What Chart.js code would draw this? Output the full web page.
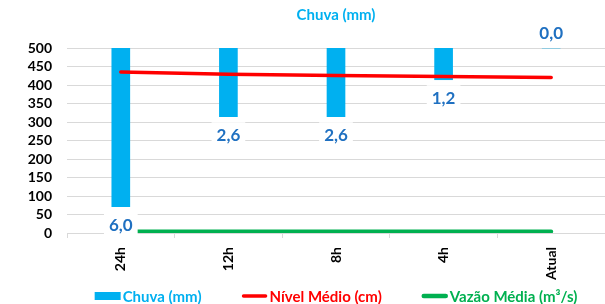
<!DOCTYPE html>
<html><head><meta charset="utf-8">
<script src="https://cdn.jsdelivr.net/npm/chart.js@4"></script>
<style>html,body{margin:0;padding:0;background:#fff;}#wrap{width:605px;height:304px;}</style>
</head><body><div id="wrap"><canvas id="c" width="605" height="304"></canvas></div>
<script>
const categories = ['24h', '12h', '8h', '4h', 'Atual'];
const chuva = [6.0, 2.6, 2.6, 1.2, 0.0];
const nivel = [435, 429, 426, 423, 420];
const vazao = [4, 4, 4, 4, 4];
const yMin = 0, yMax = 500, yStep = 50;
const chuvaMax = 7;
const seriesNames = ['Chuva (mm)', 'Nível Médio (cm)', 'Vazão Média (m³/s)'];
const seriesColors = ['#00B0F0', '#FF0000', '#00B050'];

const FONT = 'Lato';
const labelPlugin = {
  id: 'chuvaLabels',
  afterDatasetsDraw(chart) {
    const meta = chart.getDatasetMeta(0);
    const ctx = chart.ctx;
    ctx.save();
    ctx.font = 'bold 17px ' + FONT;
    ctx.textAlign = 'center';
    ctx.textBaseline = 'middle';
    meta.data.forEach((el, i) => {
      const v = chuva[i];
      const txt = v.toFixed(1).replace('.', ',');
      const y = v > 0 ? el.y + 17.5 : el.y - 15.5;
      const w = ctx.measureText(txt).width + 10;
      ctx.fillStyle = '#ffffff';
      ctx.fillRect(el.x - w / 2, y - 12, w, 24);
      ctx.fillStyle = '#1F70C1';
      ctx.fillText(txt, el.x, y + 1);
    });
    ctx.restore();
  }
};

const legendPlugin = {
  id: 'customLegend',
  afterDraw(chart) {
    const ctx = chart.ctx;
    const area = chart.chartArea;
    ctx.save();
    ctx.font = 'bold 15px ' + FONT;
    ctx.textBaseline = 'middle';
    ctx.textAlign = 'left';
    const boxW = 26, gapBox = 2, gapItem = 40;
    const widths = seriesNames.map(t => boxW + gapBox + ctx.measureText(t).width);
    const total = widths.reduce((a, b) => a + b, 0) + gapItem * (widths.length - 1);
    let x = (area.left + area.right) / 2 - total / 2;
    const y = 296;
    chart.data.datasets.forEach((ds, i) => {
      const c = seriesColors[i];
      if (ds.type === 'bar') {
        ctx.fillStyle = c;
        ctx.fillRect(x, y - 4, boxW, 8);
      } else {
        ctx.strokeStyle = c;
        ctx.lineWidth = i === 1 ? 3.5 : 4.5;
        ctx.lineCap = 'round';
        ctx.beginPath();
        ctx.moveTo(x + 2, y);
        ctx.lineTo(x + boxW - 2, y);
        ctx.stroke();
      }
      ctx.fillStyle = c;
      ctx.fillText(seriesNames[i], x + boxW + gapBox, y + 1);
      x += widths[i] + gapItem;
    });
    ctx.restore();
  }
};

new Chart(document.getElementById('c'), {
  data: {
    labels: categories,
    datasets: [
      { type: 'bar', label: seriesNames[0], data: chuva, yAxisID: 'y2', backgroundColor: seriesColors[0], barThickness: 18, order: 3 },
      { type: 'line', label: seriesNames[1], data: nivel, yAxisID: 'y', borderColor: seriesColors[1], borderWidth: 3.5, pointRadius: 0, borderCapStyle: 'round', order: 1 },
      { type: 'line', label: seriesNames[2], data: vazao, yAxisID: 'y', borderColor: seriesColors[2], borderWidth: 4, pointRadius: 0, borderCapStyle: 'round', order: 2 }
    ]
  },
  options: {
    responsive: false,
    animation: false,
    devicePixelRatio: 1,
    layout: { padding: { left: 0, right: 0, top: 0, bottom: 0 } },
    plugins: {
      tooltip: { enabled: false },
      legend: { display: false },
      title: {
        display: true, text: 'Chuva (mm)', color: '#00B0F0', fullSize: false,
        font: { family: FONT, weight: 'bold', size: 15 },
        padding: { top: 6, bottom: 24 }
      }
    },
    scales: {
      x: {
        grid: { display: true, drawOnChartArea: false, drawTicks: true, tickLength: 5, offset: true, color: '#D9D9D9' },
        border: { display: true, color: '#D9D9D9' },
        ticks: { color: '#000', font: { family: FONT, weight: 'bold', size: 14 }, minRotation: 90, maxRotation: 90, padding: 9, autoSkip: false },
        afterFit(s) { s.height = 71; }
      },
      y: {
        min: yMin, max: yMax,
        ticks: { stepSize: yStep, color: '#000', font: { family: FONT, weight: 'bold', size: 14 }, padding: 15, autoSkip: false },
        grid: { color: '#D9D9D9', drawTicks: false },
        border: { display: false },
        afterFit(s) { s.width = 67; }
      },
      y2: {
        display: false, reverse: true, min: 0, max: chuvaMax,
        grid: { display: false }
      }
    }
  },
  plugins: [labelPlugin, legendPlugin]
});
</script>
</body></html>
